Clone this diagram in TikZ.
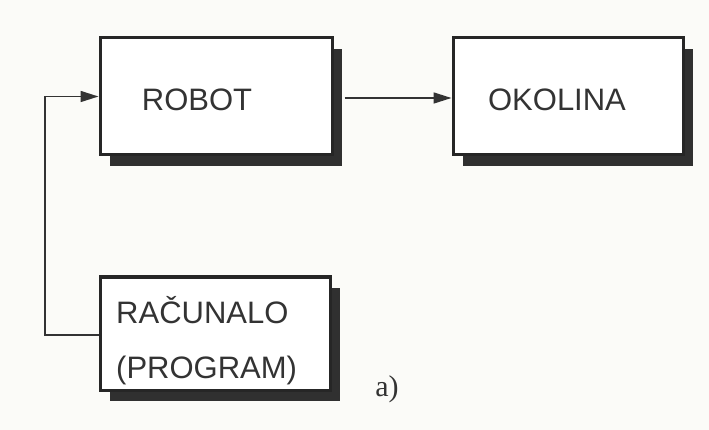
\documentclass[tikz,border=0pt]{standalone}
\usepackage{fontspec}
\setmainfont{Liberation Sans}
\newfontfamily\serifa{Liberation Serif}
\usetikzlibrary{shadows,arrows.meta}
\definecolor{paper}{HTML}{FBFBF8}
\definecolor{ink}{HTML}{333333}
\definecolor{shade}{HTML}{303030}
\tikzset{
  boxnode/.style={draw=black!85, line width=3pt, fill=white, rectangle, inner sep=0pt,
    drop shadow={shadow xshift=10pt, shadow yshift=-11pt, fill=shade, opacity=1}},
  lbl/.style={text=ink, inner sep=0pt, font=\fontsize{31}{55}\selectfont},
  arr/.style={draw=black!80, line width=1.6pt, -{Triangle[length=18pt,width=11pt]}}
}
\begin{document}
\begin{tikzpicture}[x=1pt,y=-1pt]
\fill[paper] (0,0) rectangle (709,430);
\useasboundingbox (0,0) rectangle (709,430);
\node[boxnode, minimum width=232pt, minimum height=117pt] (robot) at (216,96.5) {};
\node[boxnode, minimum width=230pt, minimum height=117pt] (okolina) at (568,96.5) {};
\node[boxnode, minimum width=230pt, minimum height=113pt] (rac) at (215,333.5) {};
\node[lbl] (robottxt) at (197,100) {ROBOT};
\node[lbl] (okotxt) at (557,100) {OKOLINA};
\node[lbl, align=left, anchor=west] (ractxt) at (116,341) {RAČUNALO\\(PROGRAM)};
\node[text=ink, inner sep=0pt, font=\serifa\fontsize{30}{36}\selectfont] (alabel) at (387,389) {a)};
\coordinate (bend) at (45,335);
\draw[arr] (robot.east |- 0,98) ++(11,0) coordinate (rs) -- (okolina.west |- rs);
\draw[arr] (bend -| rac.west) -- (bend) |- (robot.west);
\end{tikzpicture}
\end{document}
